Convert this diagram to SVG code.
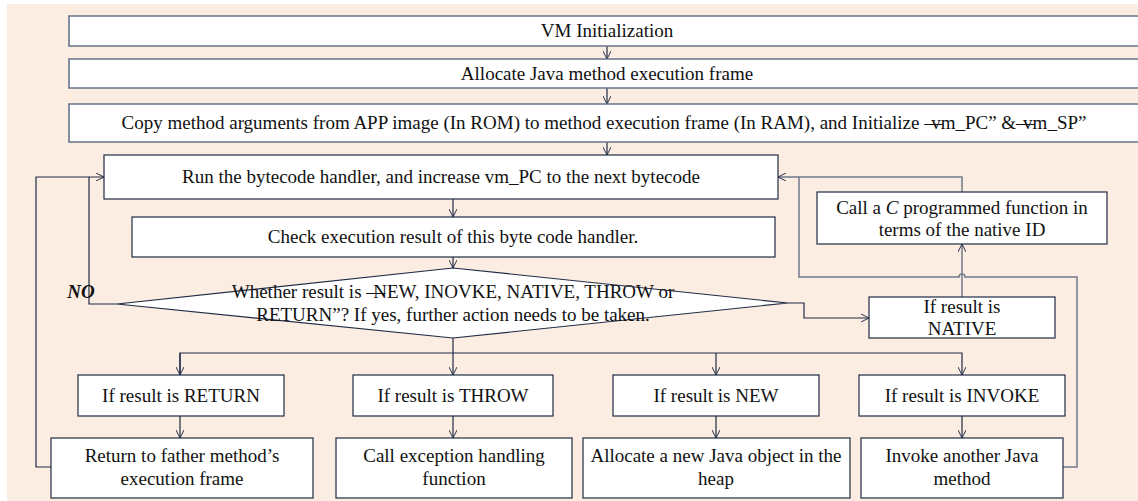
<svg xmlns="http://www.w3.org/2000/svg" width="1138" height="501" viewBox="0 0 1138 501">
<defs>
<marker id="ah" viewBox="0 0 10 10" refX="10" refY="5" markerWidth="8" markerHeight="8" markerUnits="userSpaceOnUse" orient="auto">
<path d="M0,0 L10,5 L0,10" fill="none" stroke="#1f2b45" stroke-width="1.2"/>
</marker>
</defs>
<style>
.bg{fill:#fcede3}
.top{fill:#fff;stroke:#66758c;stroke-width:1.6}
.box{fill:#fff;stroke:#1f2b45;stroke-width:1.2}
.gbox{fill:#fff;stroke:#5d6b80;stroke-width:1.2}
.t{font-family:"Liberation Serif","Times New Roman",serif;font-size:19px;fill:#111;text-anchor:middle}
.c{fill:none;stroke:#1f2b45;stroke-width:1.2}
.g{fill:none;stroke:#6f7a8a;stroke-width:1.5}
</style>
<rect class="bg" x="7" y="4" width="1131" height="497"/>
<g id="connectors">
<path class="c" d="M607,46 V59" marker-end="url(#ah)"/>
<path class="c" d="M607,88 V104" marker-end="url(#ah)"/>
<path class="c" d="M607,142 V155" marker-end="url(#ah)"/>
<path class="c" d="M453,199 V217" marker-end="url(#ah)"/>
<path class="c" d="M453,257 V268" marker-end="url(#ah)"/>
<path class="c" d="M117,304 H89 V177"/>
<path class="c" d="M51,467 H36 V177 H104" marker-end="url(#ah)"/>
<path class="g" d="M962,192 V177 H778" marker-end="url(#ah)"/>
<path class="g" d="M1063,467 H1077 V277 H965 A3,3 0 0 0 959,277 H799 V177"/>
<path class="g" d="M962,297 V244" marker-end="url(#ah)"/>
<path class="c" d="M788,303 H804 V318 H869" marker-end="url(#ah)"/>
<path class="c" d="M453,338 V353"/>
<path class="c" d="M180,375 V353 H962 V375" marker-end="url(#ah)"/>
<path class="c" d="M180,353 V375" marker-end="url(#ah)"/>
<path class="c" d="M453,353 V375" marker-end="url(#ah)"/>
<path class="c" d="M716,353 V375" marker-end="url(#ah)"/>
<path class="c" d="M180,416 V438" marker-end="url(#ah)"/>
<path class="c" d="M453,416 V438" marker-end="url(#ah)"/>
<path class="c" d="M716,416 V438" marker-end="url(#ah)"/>
<path class="c" d="M962,416 V438" marker-end="url(#ah)"/>
</g>
<g id="vm-init">
<path class="top" d="M1140,16 H69 V46 H1140" fill="#fff"/>
<text class="t" x="607" y="37">VM Initialization</text>
</g>
<g id="allocate-frame">
<path class="top" d="M1140,59 H69 V88 H1140"/>
<text class="t" x="607" y="80">Allocate Java method execution frame</text>
</g>
<g id="copy-args">
<path class="top" d="M1140,104 H69 V142 H1140"/>
<text class="t" x="604" y="129">Copy method arguments from APP image (In ROM) to method execution frame (In RAM), and Initialize <tspan>―</tspan><tspan dx="-12">vm_PC” &amp;</tspan><tspan>―</tspan><tspan dx="-12">vm_SP”</tspan></text>
</g>
<g id="run-handler">
<rect class="box" x="104" y="155" width="674" height="44"/>
<text class="t" x="441" y="183">Run the bytecode handler, and increase vm_PC to the next bytecode</text>
</g>
<g id="check-result">
<rect class="box" x="132" y="217" width="643" height="40"/>
<text class="t" x="453" y="243">Check execution result of this byte code handler.</text>
</g>
<g id="decision">
<polygon class="box" points="453,268 788,303 453,338 117,304"/>
<text class="t" x="453" y="298">Whether result is <tspan>―</tspan><tspan dx="-12">NEW, INOVKE, NATIVE, THROW or</tspan></text>
<text class="t" x="453" y="321">RETURN”?  If yes, further action needs to be taken.</text>
<text class="t" x="81" y="298" font-weight="bold" font-style="italic">NO</text>
</g>
<g id="native">
<rect class="box" x="869" y="297" width="186" height="41"/>
<text class="t" x="962" y="313">If result is</text>
<text class="t" x="962" y="335">NATIVE</text>
</g>
<g id="call-c">
<rect class="box" x="817" y="192" width="290" height="52"/>
<text class="t" x="962" y="214">Call a <tspan font-style="italic">C</tspan> programmed function in</text>
<text class="t" x="962" y="236">terms of the native ID</text>
</g>
<g id="if-return">
<rect class="box" x="78" y="375" width="206" height="41"/>
<text class="t" x="181" y="402">If result is RETURN</text>
</g>
<g id="if-throw">
<rect class="box" x="353" y="375" width="200" height="41"/>
<text class="t" x="453" y="402">If result is THROW</text>
</g>
<g id="if-new">
<rect class="box" x="613" y="375" width="206" height="41"/>
<text class="t" x="716" y="402">If result is NEW</text>
</g>
<g id="if-invoke">
<rect class="box" x="859" y="375" width="206" height="41"/>
<text class="t" x="962" y="402">If result is INVOKE</text>
</g>
<g id="return-father">
<rect class="box" x="51" y="438" width="262" height="60"/>
<text class="t" x="182" y="462">Return to father method’s</text>
<text class="t" x="182" y="485">execution frame</text>
</g>
<g id="exception">
<rect class="box" x="336" y="438" width="236" height="60"/>
<text class="t" x="454" y="462">Call exception handling</text>
<text class="t" x="454" y="485">function</text>
</g>
<g id="alloc-object">
<rect class="box" x="583" y="438" width="267" height="60"/>
<text class="t" x="716" y="462">Allocate a new Java object in the</text>
<text class="t" x="716" y="485">heap</text>
</g>
<g id="invoke-method">
<rect class="box" x="861" y="438" width="202" height="60"/>
<text class="t" x="962" y="462">Invoke another Java</text>
<text class="t" x="962" y="485">method</text>
</g>
</svg>
